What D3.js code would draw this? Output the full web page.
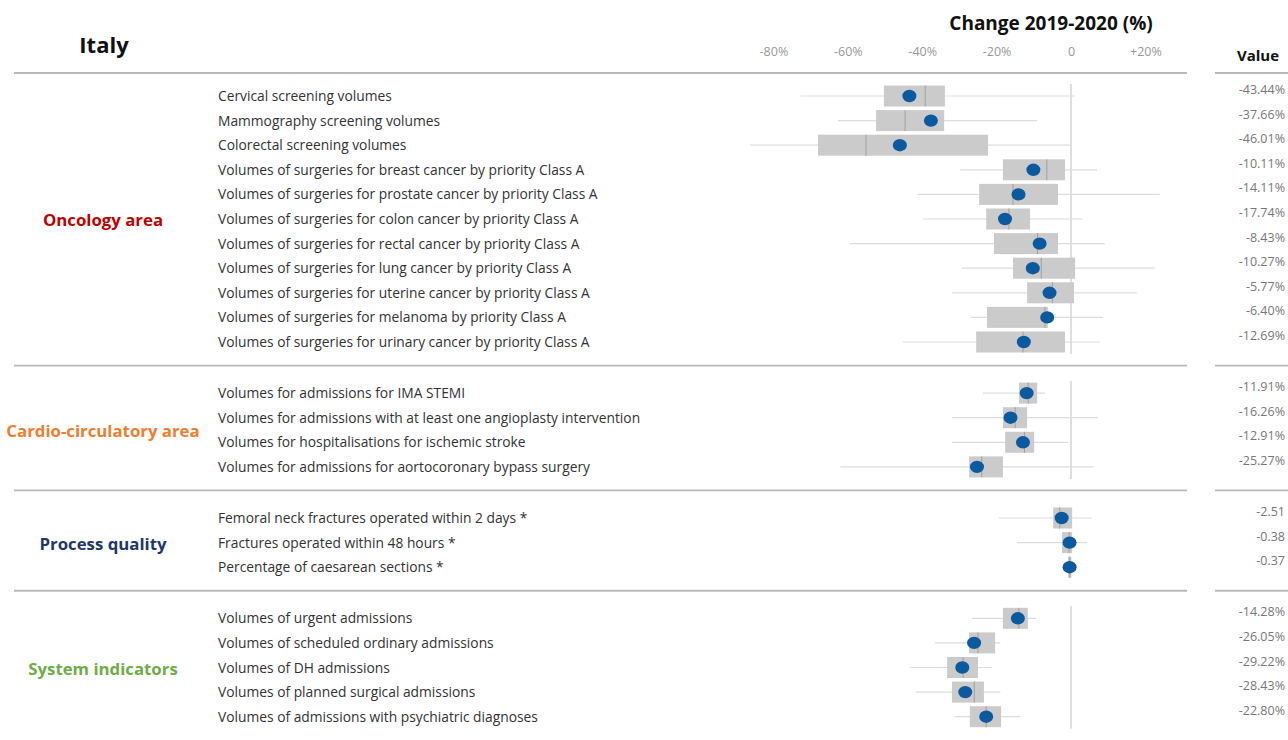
<!DOCTYPE html>
<html>
<head>
<meta charset="utf-8">
<script src="https://cdn.jsdelivr.net/npm/d3@7"></script>
<style>
  body { margin: 0; background: #fff; }
  svg text { font-family: "Open Sans", "Noto Sans", sans-serif; }
</style>
</head>
<body>
<div id="chart"></div>
<script>
// groups
var groupNames = ["Oncology area", "Cardio-circulatory area", "Process quality", "System indicators"];
var groupColors = ["#c00000", "#ed7d31", "#1f3864", "#70ad47"];

// indicators
var labels = [
  "Cervical screening volumes",
  "Mammography screening volumes",
  "Colorectal screening volumes",
  "Volumes of surgeries for breast cancer by priority Class A",
  "Volumes of surgeries for prostate cancer by priority Class A",
  "Volumes of surgeries for colon cancer by priority Class A",
  "Volumes of surgeries for rectal cancer by priority Class A",
  "Volumes of surgeries for lung cancer by priority Class A",
  "Volumes of surgeries for uterine cancer by priority Class A",
  "Volumes of surgeries for melanoma by priority Class A",
  "Volumes of surgeries for urinary cancer by priority Class A",
  "Volumes for admissions for IMA STEMI",
  "Volumes for admissions with at least one angioplasty intervention",
  "Volumes for hospitalisations for ischemic stroke",
  "Volumes for admissions for aortocoronary bypass surgery",
  "Femoral neck fractures operated within 2 days *",
  "Fractures operated within 48 hours *",
  "Percentage of caesarean sections *",
  "Volumes of urgent admissions",
  "Volumes of scheduled ordinary admissions",
  "Volumes of DH admissions",
  "Volumes of planned surgical admissions",
  "Volumes of admissions with psychiatric diagnoses"
];
var groupOf = [0,0,0,0,0,0,0,0,0,0,0, 1,1,1,1, 2,2,2, 3,3,3,3,3];

// Italy value (dot) and value column text
var values = [-43.44, -37.66, -46.01, -10.11, -14.11, -17.74, -8.43, -10.27, -5.77, -6.40, -12.69,
              -11.91, -16.26, -12.91, -25.27, -2.51, -0.38, -0.37,
              -14.28, -26.05, -29.22, -28.43, -22.80];
var valueText = ["-43.44%", "-37.66%", "-46.01%", "-10.11%", "-14.11%", "-17.74%", "-8.43%", "-10.27%",
                 "-5.77%", "-6.40%", "-12.69%", "-11.91%", "-16.26%", "-12.91%", "-25.27%",
                 "-2.51", "-0.38", "-0.37", "-14.28%", "-26.05%", "-29.22%", "-28.43%", "-22.80%"];

// regional distribution: whiskers, box (quartiles), median
var whiskerLo = [-72.8, -62.6, -86.3, -29.8, -41.4, -39.8, -59.4, -29.3, -32.0, -27.0, -45.2,
                 -23.7, -32.0, -32.0, -62.0, -19.4, -14.5, -1.5,
                 -26.6, -36.6, -43.3, -41.7, -31.2];
var whiskerHi = [1.0, -9.1, -0.3, 7.0, 23.9, 3.0, 9.1, 22.6, 17.7, 8.6, 7.8,
                 -7.0, 7.3, -0.8, 6.0, 5.6, 4.3, 0.8,
                 -9.4, -19.0, -21.2, -19.0, -13.7];
var boxLo = [-50.3, -52.4, -68.0, -18.3, -24.7, -22.8, -20.7, -15.6, -11.8, -22.6, -25.5,
             -14.0, -18.3, -17.7, -27.4, -4.8, -2.4, -0.8,
             -18.3, -27.4, -33.3, -32.0, -27.2];
var boxHi = [-33.9, -34.1, -22.3, -1.6, -3.5, -11.0, -3.5, 1.1, 0.8, -6.2, -1.6,
             -9.1, -11.8, -9.9, -18.3, 0.3, 0.3, 0.1,
             -11.6, -20.4, -25.0, -23.4, -18.8];
var medians = [-39.2, -44.6, -55.1, -6.5, -15.6, -16.7, -9.0, -8.0, -5.0, -7.0, -12.9,
               -11.5, -15.0, -12.5, -24.0, -3.0, -0.5, -0.3,
               -14.0, -25.0, -29.0, -26.0, -22.8];

var ticks = [-80, -60, -40, -20, 0, 20];

var W = 1288, H = 740;
var svg = d3.select("#chart").append("svg")
  .attr("width", W)
  .attr("height", H);

var x = d3.scaleLinear()
  .domain([-80, 20])
  .range([1071 - 80 * 3.72, 1071 + 20 * 3.72]);

var rowStep = 24.6, groupGap = 26.5, firstRowY = 96;
function rowY(i) { return firstRowY + i * rowStep + groupOf[i] * groupGap; }

var rows = labels.map(function (d, i) {
  return { label: d, group: groupOf[i], value: values[i], text: valueText[i],
    wlo: whiskerLo[i], whi: whiskerHi[i], blo: boxLo[i], bhi: boxHi[i], med: medians[i], y: rowY(i) };
});

// titles
svg.append("text").attr("x", 104).attr("y", 53).attr("text-anchor", "middle")
  .style("font-size", "22px").style("font-weight", "bold").attr("fill", "#111").text("Italy");
svg.append("text").attr("x", 1051).attr("y", 30).attr("text-anchor", "middle")
  .style("font-size", "19px").style("font-weight", "bold").attr("fill", "#111").text("Change 2019-2020 (%)");
svg.append("text").attr("x", 1258).attr("y", 61).attr("text-anchor", "middle")
  .style("font-size", "15px").style("font-weight", "bold").attr("fill", "#111").text("Value");

// axis labels
var axis = d3.axisTop(x)
  .tickValues(ticks)
  .tickSize(0)
  .tickFormat(function (d) { return d === 0 ? "0" : (d > 0 ? "+" : "-") + Math.abs(d) + "%"; });
var ax = svg.append("g").attr("transform", "translate(0,59)").call(axis);
ax.select(".domain").remove();
ax.selectAll("text").attr("fill", "#999").style("font-size", "12.5px")
  .style("font-family", "'Open Sans', sans-serif");

// separators
var groupIdx = d3.range(groupNames.length);
var sepY = [73].concat(groupIdx.slice(1).map(function (g) {
  var prev = rows.filter(function (r) { return r.group === g - 1; });
  var next = rows.filter(function (r) { return r.group === g; });
  return (prev[prev.length - 1].y + next[0].y) / 2 - 2;
}));
sepY.forEach(function (y) {
  svg.append("line").attr("x1", 14).attr("x2", 1187).attr("y1", y).attr("y2", y)
    .attr("stroke", "#b8b8b8").attr("stroke-width", 1.8);
  svg.append("line").attr("x1", 1215).attr("x2", 1288).attr("y1", y).attr("y2", y)
    .attr("stroke", "#b8b8b8").attr("stroke-width", 1.8);
});

// zero lines per group
groupIdx.forEach(function (g) {
  if (g === 2) return;
  var gr = rows.filter(function (r) { return r.group === g; });
  svg.append("line")
    .attr("x1", x(0)).attr("x2", x(0))
    .attr("y1", gr[0].y - 12).attr("y2", gr[gr.length - 1].y + 12)
    .attr("stroke", "#c8c8c8").attr("stroke-width", 1.2);
});

// group labels
groupIdx.forEach(function (g) {
  var gr = rows.filter(function (r) { return r.group === g; });
  svg.append("text")
    .attr("x", 103).attr("y", d3.mean(gr, function (r) { return r.y; }) + 7)
    .attr("text-anchor", "middle")
    .style("font-size", "16.8px").style("font-weight", "bold")
    .attr("fill", groupColors[g]).text(groupNames[g]);
});

var row = svg.append("g").selectAll("g")
  .data(rows)
  .enter().append("g");

row.append("text")
  .attr("x", 218).attr("y", function (d) { return d.y + 5; })
  .style("font-size", "13.8px").attr("fill", "#333")
  .text(function (d) { return d.label; });

row.append("line")
  .attr("x1", function (d) { return x(d.wlo); })
  .attr("x2", function (d) { return x(d.whi); })
  .attr("y1", function (d) { return d.y; })
  .attr("y2", function (d) { return d.y; })
  .attr("stroke", "#dcdcdc").attr("stroke-width", 1.2);

row.append("rect")
  .attr("x", function (d) { return x(d.blo); })
  .attr("width", function (d) { return x(d.bhi) - x(d.blo); })
  .attr("y", function (d) { return d.y - 10.5; })
  .attr("height", 21)
  .attr("fill", "#cbcbcb");

row.append("line")
  .attr("x1", function (d) { return x(d.med); })
  .attr("x2", function (d) { return x(d.med); })
  .attr("y1", function (d) { return d.y - 10.5; })
  .attr("y2", function (d) { return d.y + 10.5; })
  .attr("stroke", "#a0a0a0").attr("stroke-width", 1);

row.append("ellipse")
  .attr("cx", function (d) { return x(d.value); })
  .attr("cy", function (d) { return d.y; })
  .attr("rx", 7).attr("ry", 6.2)
  .attr("fill", "#0b5aa0");

row.append("text")
  .attr("x", 1285).attr("y", function (d) { return d.y - 2; })
  .attr("text-anchor", "end")
  .style("font-size", "12.5px").attr("fill", "#777")
  .text(function (d) { return d.text; });
</script>
</body>
</html>
